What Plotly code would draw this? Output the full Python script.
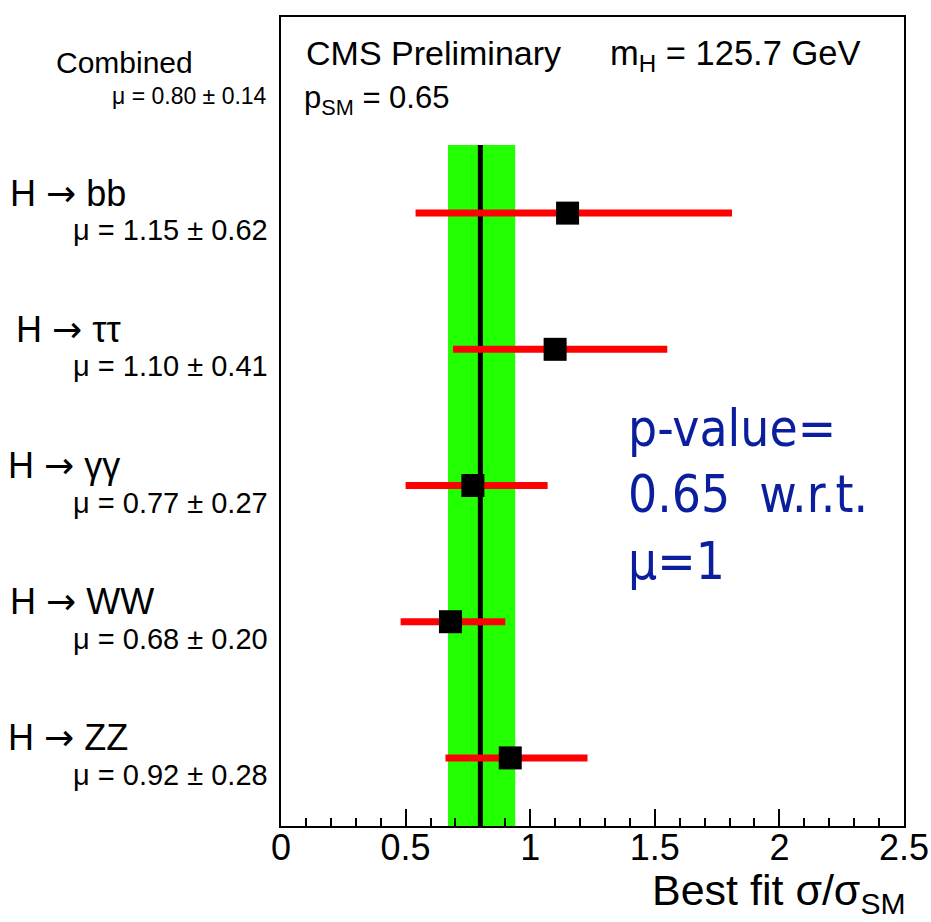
import plotly.graph_objects as go

# ---- data ----
channels = ["bb", "ττ", "γγ", "WW", "ZZ"]
mu_text = ["μ = 1.15 ± 0.62", "μ = 1.10 ± 0.41", "μ = 0.77 ± 0.27", "μ = 0.68 ± 0.20", "μ = 0.92 ± 0.28"]
row_pos = [4, 3, 2, 1, 0]
mu_values = [1.15, 1.10, 0.77, 0.68, 0.92]
err_minus = [0.61, 0.41, 0.27, 0.20, 0.26]
err_plus = [0.66, 0.45, 0.30, 0.22, 0.31]

combined_label = "Combined"
combined_text = "μ = 0.80 ± 0.14"
combined_mu = 0.80
combined_lo = 0.67
combined_hi = 0.94

x_ticks = [0, 0.5, 1, 1.5, 2, 2.5]
x_tick_text = ["0", "0.5", "1", "1.5", "2", "2.5"]

W, H = 931, 922
L, R, T, B = 281, 27, 17, 96
PW, PH = W - L - R, H - T - B


def px(x):
    return (x - L) / PW


def py(y):
    return (H - B - y) / PH


fig = go.Figure()

# combined band + line
fig.add_shape(type="rect", xref="x", yref="y", x0=combined_lo, x1=combined_hi,
              y0=-0.5, y1=4.5, fillcolor="#22ff00", line_width=0, layer="below")
fig.add_shape(type="line", xref="x", yref="y", x0=combined_mu, x1=combined_mu,
              y0=-0.5, y1=4.5, line=dict(color="black", width=5), layer="below")

fig.add_trace(go.Scatter(
    x=mu_values, y=row_pos, mode="markers",
    marker=dict(symbol="square", size=23, color="black", line=dict(width=0)),
    error_x=dict(type="data", symmetric=False, array=err_plus, arrayminus=err_minus,
                 color="#ff0000", thickness=7, width=0),
    showlegend=False, hoverinfo="skip"))

font_main = "Liberation Sans, Arial, Helvetica, sans-serif"
arrow = "<span style='font-family:DejaVu Sans'>→</span>"
ann = []
label_x = [8, 14, 6, 8, 6]
for i, (lab, mt, r) in enumerate(zip(channels, mu_text, row_pos)):
    ann.append(dict(text="H " + arrow + " " + lab, xref="paper", yref="y", x=px(label_x[i]), y=r,
                    xanchor="left", yanchor="middle", yshift=20, showarrow=False,
                    font=dict(size=36, color="black", family=font_main)))
    ann.append(dict(text=mt, xref="paper", yref="y", x=px(270), y=r,
                    xanchor="right", yanchor="middle", yshift=-17, showarrow=False,
                    font=dict(size=29, color="black", family=font_main)))

ann.append(dict(text=combined_label, xref="paper", yref="paper", x=px(195), y=py(62),
                xanchor="right", yanchor="middle", showarrow=False,
                font=dict(size=30, color="black", family=font_main)))
ann.append(dict(text=combined_text, xref="paper", yref="paper", x=px(269), y=py(96),
                xanchor="right", yanchor="middle", showarrow=False,
                font=dict(size=23, color="black", family=font_main)))

ann.append(dict(text="CMS Preliminary", xref="paper", yref="paper", x=px(304), y=py(53),
                xanchor="left", yanchor="middle", showarrow=False,
                font=dict(size=34, color="black", family=font_main)))
ann.append(dict(text="m<sub>H</sub> = 125.7 GeV", xref="paper", yref="paper", x=px(608), y=py(56),
                xanchor="left", yanchor="middle", showarrow=False,
                font=dict(size=34.5, color="black", family=font_main)))
ann.append(dict(text="p<sub>SM</sub> = 0.65", xref="paper", yref="paper", x=px(302), y=py(100),
                xanchor="left", yanchor="middle", showarrow=False,
                font=dict(size=31, color="black", family=font_main)))

ann.append(dict(text="p-value=<br>0.65  w.r.t.<br>μ=1", xref="paper", yref="paper",
                x=px(626), y=py(397), xanchor="left", yanchor="top", align="left",
                showarrow=False,
                font=dict(size=51, color="#0a1e9e", family="DejaVu Sans Condensed, DejaVu Sans, sans-serif")))

ann.append(dict(text="Best fit σ/σ<sub>SM</sub>", xref="paper", yref="paper", x=px(907), y=py(921),
                xanchor="right", yanchor="bottom", showarrow=False, borderpad=0,
                font=dict(size=43, color="black", family=font_main)))

fig.update_layout(
    width=W, height=H, margin=dict(l=L, r=R, t=T, b=B, autoexpand=False),
    paper_bgcolor="white", plot_bgcolor="white",
    annotations=ann,
    xaxis=dict(range=[0, 2.5], tickvals=x_ticks, ticktext=x_tick_text, ticks="inside",
               ticklen=17, tickwidth=1.5, tickcolor="black", showgrid=False, zeroline=False,
               showline=True, linecolor="black", linewidth=1.5, mirror=True, automargin=False,
               ticklabelstandoff=-11,
               tickfont=dict(size=36, color="black", family=font_main),
               minor=dict(dtick=0.1, ticks="inside", ticklen=8, tickwidth=1.5, tickcolor="black", showgrid=False)),
    yaxis=dict(range=[-0.5, 5.44], showticklabels=False, ticks="", showgrid=False, zeroline=False,
               showline=True, linecolor="black", linewidth=1.5, mirror=True, automargin=False),
)

fig.write_html("out.html")
